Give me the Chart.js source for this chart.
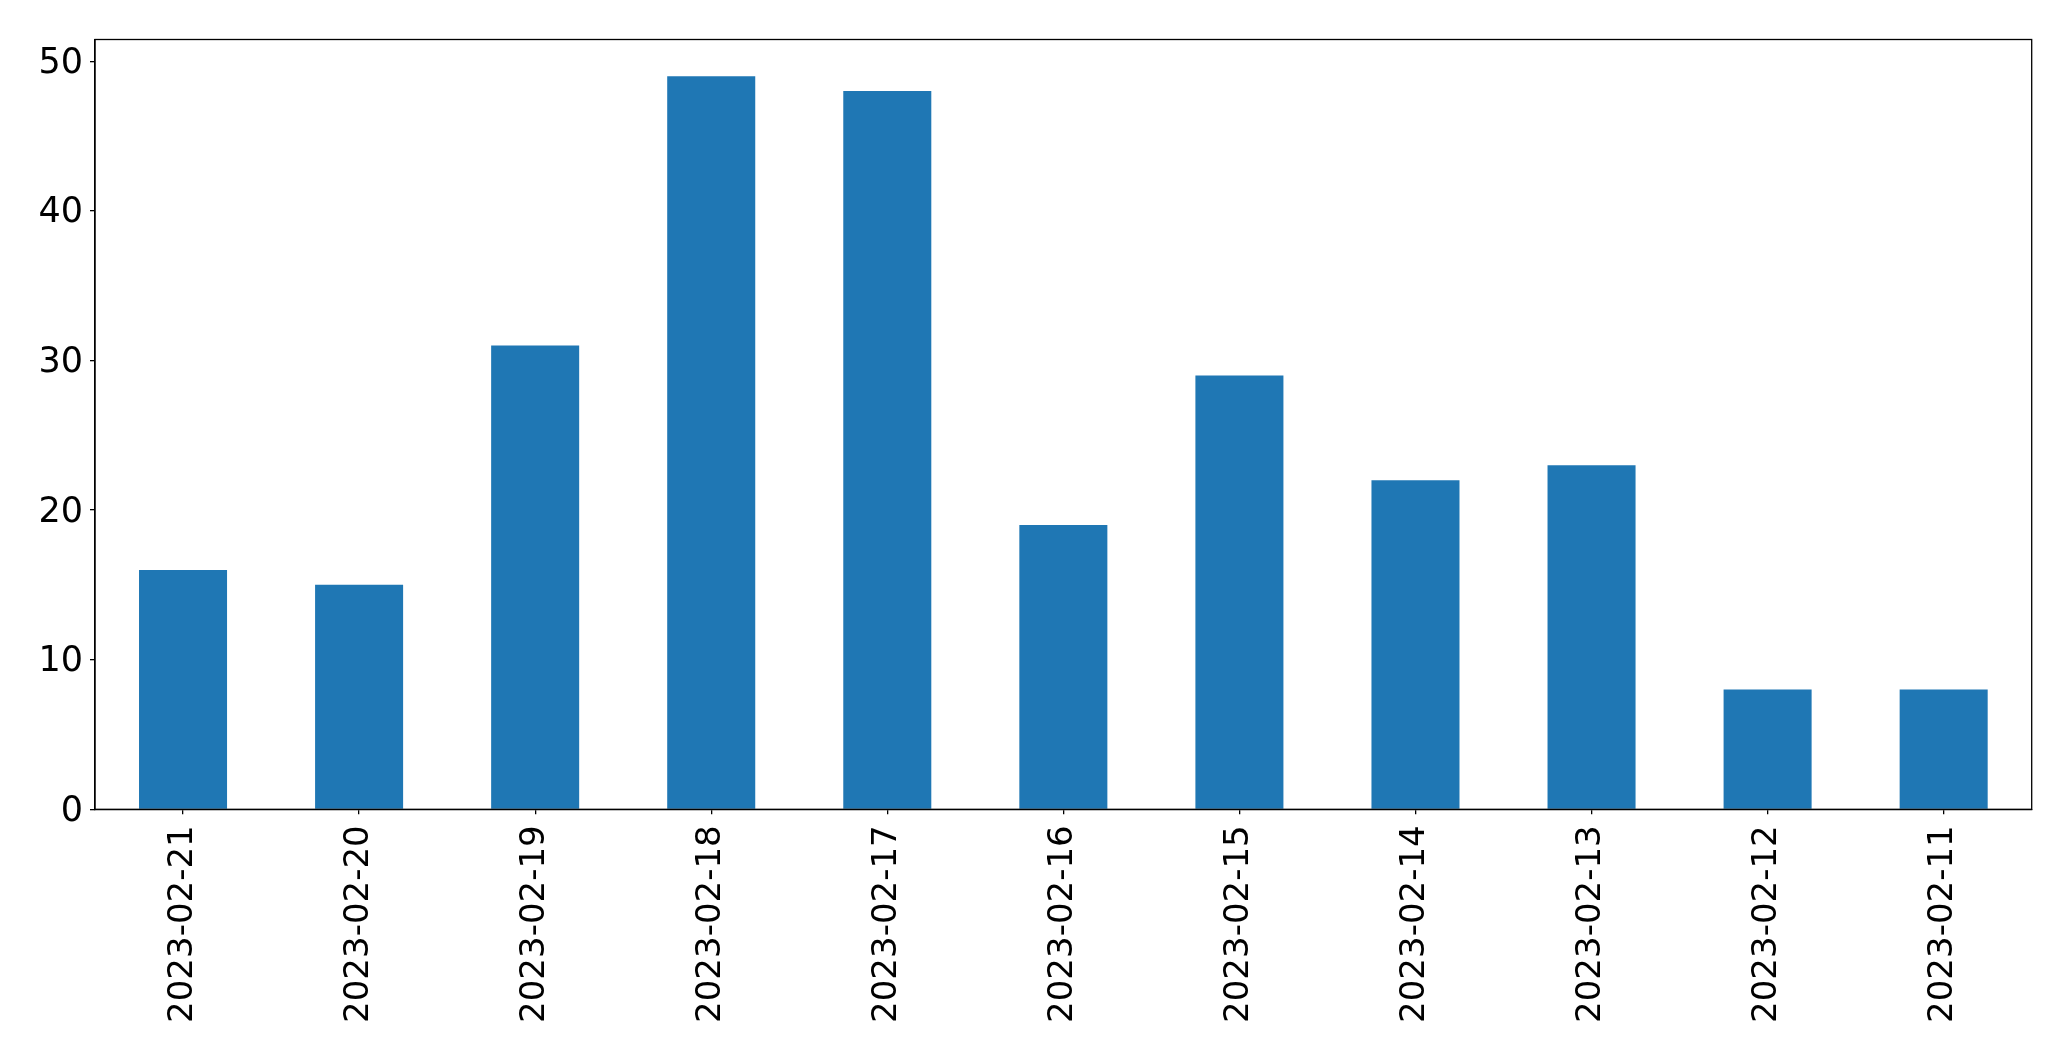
<!DOCTYPE html>
<html>
<head>
<meta charset="utf-8">
<script src="https://cdn.jsdelivr.net/npm/chart.js@4"></script>
<style>
html,body{margin:0;padding:0;background:#fff;}
canvas{display:block;}
</style>
</head>
<body>
<canvas id="c" width="2071" height="1061"></canvas>
<script>
const categories = ["2023-02-21","2023-02-20","2023-02-19","2023-02-18","2023-02-17","2023-02-16","2023-02-15","2023-02-14","2023-02-13","2023-02-12","2023-02-11"];
const values = [16,15,31,49,48,19,29,22,23,8,8];
const yMax = 51.45;

const frame = {
  id: 'frame',
  afterDraw(chart) {
    const {ctx, chartArea: a} = chart;
    ctx.save();
    ctx.strokeStyle = '#000';
    ctx.lineWidth = 1.3;
    ctx.strokeRect(a.left, a.top, a.right - a.left, a.bottom - a.top);
    ctx.restore();
  }
};

const font = {family: 'DejaVu Sans', size: 34};

new Chart(document.getElementById('c'), {
  type: 'bar',
  data: {
    labels: categories,
    datasets: [{
      data: values,
      backgroundColor: '#1f77b4',
      borderWidth: 0,
      barPercentage: 0.5,
      categoryPercentage: 1.0
    }]
  },
  options: {
    responsive: false,
    animation: false,
    layout: {padding: {left: 0, top: 39.5, right: 39.3, bottom: 0}},
    plugins: {legend: {display: false}, tooltip: {enabled: false}},
    scales: {
      x: {
        grid: {display: true, offset: false, drawOnChartArea: false, drawTicks: true, tickLength: 5, color: '#000', lineWidth: 1.3},
        border: {display: true, color: '#000', width: 1.3},
        ticks: {color: '#000', font: font, maxRotation: 90, minRotation: 90, padding: 11, autoSkip: false},
        afterFit(scale) { scale.height = 251.7; }
      },
      y: {
        min: 0,
        max: yMax,
        grid: {display: true, drawOnChartArea: false, drawTicks: true, tickLength: 5, color: '#000', lineWidth: 1.3},
        border: {display: true, color: '#000', width: 1.3},
        ticks: {color: '#000', font: {family: 'DejaVu Sans', size: 35}, stepSize: 10, includeBounds: false, padding: 7, labelOffset: 2.5},
        afterFit(scale) { scale.width = 95; }
      }
    }
  },
  plugins: [frame]
});
</script>
</body>
</html>
